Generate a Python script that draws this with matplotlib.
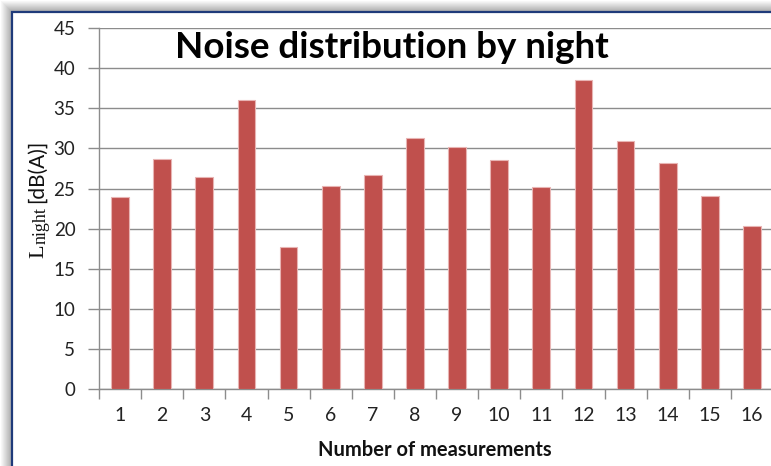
import matplotlib
matplotlib.use("Agg")
import matplotlib.pyplot as plt
import numpy as np
from matplotlib.patches import Rectangle

categories = [str(i) for i in range(1, 17)]
values = [24.0, 28.7, 26.4, 36.0, 17.7, 25.3, 26.7, 31.3, 30.2, 28.5, 25.2, 38.5, 30.9, 28.2, 24.1, 20.4]
yticks = [0, 5, 10, 15, 20, 25, 30, 35, 40, 45]

W, H = 771, 466
fig = plt.figure(figsize=(W / 100, H / 100), dpi=100)
fig.patch.set_facecolor("white")

# shadow strips and frame
for i in range(12):
    g = 1.0 - 0.03 * i
    fig.add_artist(Rectangle((i / W, 0), 1 / W, 1 - i / H, transform=fig.transFigure,
                             facecolor=(g, g, g), edgecolor="none", zorder=-3))
    fig.add_artist(Rectangle((i / W, 1 - (i + 1) / H), 1, 1 / H, transform=fig.transFigure,
                             facecolor=(g, g, g), edgecolor="none", zorder=-3))
fig.add_artist(Rectangle((12 / W, -0.1), 1.2, 1 - 12 / H + 0.1, transform=fig.transFigure,
                         facecolor="white", edgecolor="#1f3a7a", linewidth=1.6, zorder=-2))

ax_left = 99 / W
ax_right = 773 / W
ax_bottom = (H - 389.3) / H
ax_top = (H - 28) / H
ax = fig.add_axes([ax_left, ax_bottom, ax_right - ax_left, ax_top - ax_bottom])
ax.set_zorder(1)
ax.set_facecolor("none")

x = np.arange(len(values))
ax.bar(x, values, width=0.42, color="#c0504d", edgecolor="#e8b4b3", linewidth=0.8, zorder=3)

ax.set_xlim(-0.5, len(values) - 0.5)
ax.set_ylim(0, 45)
ax.set_yticks(yticks)
ax.set_yticklabels([str(v) for v in yticks])
ax.yaxis.grid(True, color="#8c8c8c", linewidth=1.0, zorder=0)
ax.set_axisbelow(True)

ax.set_xticks(x)
ax.set_xticklabels(categories)
ax.set_xticks(np.arange(-0.5, len(values), 1.0), minor=True)
ax.tick_params(axis="x", which="major", length=0, pad=13, labelsize=14, colors="#222222")
ax.tick_params(axis="x", which="minor", length=7, width=1.0, color="#8c8c8c")
ax.tick_params(axis="y", length=8, width=1.0, color="#8c8c8c", labelsize=13.5, labelcolor="#222222", pad=9)
for lab in ax.get_xticklabels() + ax.get_yticklabels():
    lab.set_fontfamily("Lato")

for s in ["top", "right"]:
    ax.spines[s].set_visible(False)
ax.spines["left"].set_color("#8c8c8c")
ax.spines["bottom"].set_color("#8c8c8c")
ax.spines["left"].set_linewidth(1.0)
ax.spines["bottom"].set_linewidth(1.0)

# y-axis label built from pieces: L (serif), subscript night (serif), [dB(A)] (sans)
r = fig.canvas.get_renderer()
common = dict(rotation=90, rotation_mode="anchor", ha="left", va="baseline", color="#111111")
t1 = fig.text(43 / W, (H - 258) / H, "L", family=["Liberation Serif"], fontsize=16, **common)
bb1 = t1.get_window_extent(r)
t2 = fig.text(46 / W, (bb1.y1 + 1) / H, "night", family=["Liberation Serif"], fontsize=13, **common)
bb2 = t2.get_window_extent(r)
t3 = fig.text(43 / W, (bb2.y1 + 4) / H, "[dB(A)]", family=["Lato"], fontsize=15, **common)

fig.text(392 / W, (H - 47) / H, "Noise distribution by night", ha="center", va="center",
         fontsize=26.5, fontweight="bold", family=["Lato"], color="black")
fig.text(435 / W, (H - 450) / H, "Number of measurements", ha="center", va="center",
         fontsize=14.5, fontweight="bold", family=["Lato"], color="#111111")

fig.savefig("out.png", dpi=100)
